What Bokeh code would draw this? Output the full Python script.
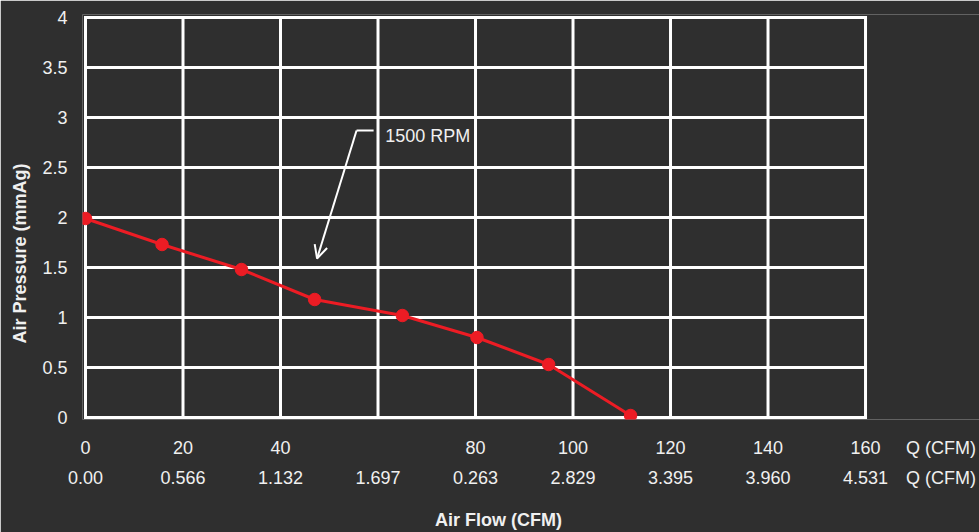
from bokeh.plotting import figure
from bokeh.models import Range1d, LinearAxis, FixedTicker, Label, Arrow, OpenHead
from bokeh.embed import file_html
from bokeh.resources import INLINE

# ---- data ----
flow_cfm = [0, 15.7, 32.0, 47.0, 65.0, 80.3, 95.0, 111.8]
pressure = [1.99, 1.73, 1.48, 1.18, 1.02, 0.80, 0.53, 0.02]

x_ticks = [0, 20, 40, 60, 80, 100, 120, 140, 160]
x_labels_cfm = ["0", "20", "40", "", "80", "100", "120", "140", "160"]
x_labels_second = ["0.00", "0.566", "1.132", "1.697", "0.263", "2.829", "3.395", "3.960", "4.531"]
y_ticks = [0, 0.5, 1, 1.5, 2, 2.5, 3, 3.5, 4]
y_labels = ["0", "0.5", "1", "1.5", "2", "2.5", "3", "3.5", "4"]

series_label = "1500 RPM"
unit_label = "Q (CFM)"
x_title = "Air Flow (CFM)"
y_title = "Air Pressure (mmAg)"

X_MIN, X_MAX = 0, 160
Y_MIN, Y_MAX = 0, 4

# ---- placement of the unit column and titles (data units) ----
UNIT_POS = 175.5
X_TITLE_POS = 84.7
Y_TITLE_POS = 1.64

# ---- style ----
BG = "#2f2f2f"
FG = "#f0f0f0"
RED = "#ec1c24"
FONT = "Liberation Sans"
FS = "18px"

p = figure(width=979, height=532,
           x_range=Range1d(-0.615, 183.38), y_range=Range1d(-0.02, 4.03),
           x_axis_type=None, y_axis_type=None,
           output_backend="svg", toolbar_location=None,
           min_border_left=82, min_border_right=0,
           min_border_top=14, min_border_bottom=113,
           background_fill_color=BG, border_fill_color=BG)
p.outline_line_color = None


def style_axis(ax, standoff, bold=False):
    ax.major_tick_out = 0
    ax.major_tick_in = 0
    ax.minor_tick_out = 0
    ax.minor_tick_in = 0
    ax.axis_line_color = None
    ax.major_label_standoff = standoff
    ax.major_label_text_font = FONT
    ax.major_label_text_font_size = FS
    ax.major_label_text_color = FG
    if bold:
        ax.major_label_text_font_style = "bold"


# y tick labels
yax = LinearAxis(ticker=FixedTicker(ticks=y_ticks),
                 major_label_overrides=dict(zip(y_ticks, y_labels)))
style_axis(yax, 15)
p.add_layout(yax, "left")

# y title
ytitle = LinearAxis(ticker=FixedTicker(ticks=[Y_TITLE_POS]),
                    major_label_overrides={Y_TITLE_POS: y_title},
                    major_label_orientation="vertical")
style_axis(ytitle, 10, bold=True)
p.add_layout(ytitle, "left")

# two rows of x tick labels, each closed by the unit label
xax1 = LinearAxis(ticker=FixedTicker(ticks=x_ticks + [UNIT_POS]),
                  major_label_overrides={**dict(zip(x_ticks, x_labels_cfm)), UNIT_POS: unit_label})
style_axis(xax1, 18)
p.add_layout(xax1, "below")

xax2 = LinearAxis(ticker=FixedTicker(ticks=x_ticks + [UNIT_POS]),
                  major_label_overrides={**dict(zip(x_ticks, x_labels_second)), UNIT_POS: unit_label})
style_axis(xax2, 7)
p.add_layout(xax2, "below")

# x title
xtitle = LinearAxis(ticker=FixedTicker(ticks=[X_TITLE_POS]),
                    major_label_overrides={X_TITLE_POS: x_title})
style_axis(xtitle, 19, bold=True)
p.add_layout(xtitle, "below")

# plot-area grid (including its border) drawn over the data rectangle only
n_x, n_y = len(x_ticks), len(y_ticks)
p.segment(x0=x_ticks, y0=[Y_MIN] * n_x, x1=x_ticks, y1=[Y_MAX] * n_x,
          line_color="white", line_width=3, line_cap="square")
p.segment(x0=[X_MIN] * n_y, y0=y_ticks, x1=[X_MAX] * n_y, y1=y_ticks,
          line_color="white", line_width=3, line_cap="square")

p.line(flow_cfm, pressure, line_color=RED, line_width=3)
p.scatter(flow_cfm, pressure, size=12.5, fill_color=RED, line_color=RED)

# callout
p.add_layout(Arrow(end=None, x_start=59.1, y_start=2.87, x_end=55.6, y_end=2.87,
                   line_color="white", line_width=2))
p.add_layout(Arrow(end=OpenHead(size=13, line_color="white", line_width=2),
                   x_start=55.6, y_start=2.87, x_end=47.5, y_end=1.59,
                   line_color="white", line_width=2))
p.add_layout(Label(x=61.5, y=2.815, text=series_label, text_baseline="middle",
                   text_align="left", text_font=FONT, text_font_size=FS, text_color=FG))

html = file_html(p, INLINE)
html = html.replace("<body>", '<body style="background-color:%s;overflow:hidden;">' % BG, 1)
open("out.html", "w").write(html)
